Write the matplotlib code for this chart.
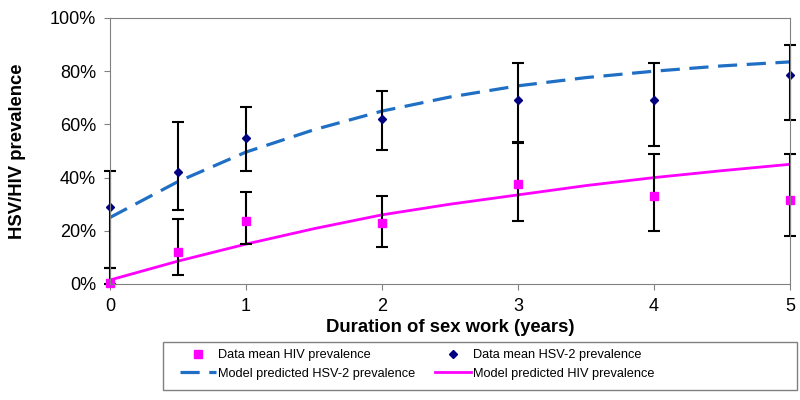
"""HSV-2 / HIV prevalence by duration of sex work"""
import matplotlib
matplotlib.use('Agg')
import matplotlib.pyplot as plt
from matplotlib.patches import Rectangle
from matplotlib.ticker import PercentFormatter

plt.rcParams['font.family'] = ['Liberation Sans', 'DejaVu Sans']

# data points (years, prevalence %)
data_x = [0, 0.5, 1, 2, 3, 4, 5]
hsv_mean = [29, 42, 55, 62, 69, 69, 78.5]
hsv_low = [6, 28, 42.5, 50.5, 53, 52, 61.5]
hsv_high = [42.5, 61, 66.5, 72.5, 83, 83, 90]
hiv_mean = [0.5, 12, 23.7, 23, 37.6, 33, 31.6]
hiv_low = [0, 3.5, 15, 14, 23.7, 20, 17.9]
hiv_high = [6, 24.5, 34.7, 33, 53.4, 49, 49]

# model curves
model_x = [0, 0.5, 1, 1.5, 2, 2.5, 3, 3.5, 4, 4.5, 5]
model_hsv = [25, 38.5, 49.6, 58, 65, 70.3, 74.5, 77.6, 80, 82, 83.5]
model_hiv = [1.5, 8.6, 15, 20.8, 26, 30, 33.5, 37, 40, 42.6, 45]

fig = plt.figure(figsize=(8, 4), dpi=100)
ax = fig.add_axes([0.1375, 0.29, 0.85, 0.665])

line_hsv, = ax.plot(model_x, model_hsv, color='#1f6fc5', linewidth=2.3,
                    dashes=(6, 3), label='Model predicted HSV-2 prevalence')
line_hiv, = ax.plot(model_x, model_hiv, color='#ff00ff', linewidth=2,
                    label='Model predicted HIV prevalence')

hsv_err = [[m - l for m, l in zip(hsv_mean, hsv_low)],
           [h - m for m, h in zip(hsv_mean, hsv_high)]]
hiv_err = [[m - l for m, l in zip(hiv_mean, hiv_low)],
           [h - m for m, h in zip(hiv_mean, hiv_high)]]

pts_hiv = ax.errorbar(data_x, hiv_mean, yerr=hiv_err, fmt='s', color='#ff00ff',
                      markersize=5.5, ecolor='black', elinewidth=1.5, capsize=4,
                      capthick=1.5, label='Data mean HIV prevalence')
pts_hsv = ax.errorbar(data_x, hsv_mean, yerr=hsv_err, fmt='D', color='#000080',
                      markersize=4.5, ecolor='black', elinewidth=1.5, capsize=4,
                      capthick=1.5, label='Data mean HSV-2 prevalence')
for eb in (pts_hiv, pts_hsv):
    eb[0].set_clip_on(False)
    for a in eb[1]:
        a.set_clip_on(False)
    for a in eb[2]:
        a.set_clip_on(False)

ax.set_xlim(0, 5)
ax.set_ylim(0, 100)
ax.set_yticks([0, 20, 40, 60, 80, 100])
ax.yaxis.set_major_formatter(PercentFormatter(decimals=0))
ax.tick_params(labelsize=13, color='gray', length=4)
ax.tick_params(axis='x', pad=6)
ax.tick_params(axis='y', pad=6)
for s in ax.spines.values():
    s.set_color('gray')

ax.set_xlabel('Duration of sex work (years)', fontsize=13.3, fontweight='bold', labelpad=3)
ax.set_ylabel('HSV/HIV prevalence', fontsize=13.3, fontweight='bold', labelpad=17)

# legend box (wider than its entries, as in the original)
fig.patches.append(Rectangle((0.204, 0.025), 0.7925, 0.12, transform=fig.transFigure,
                             facecolor='white', edgecolor='gray', linewidth=1, zorder=0))

handles = [pts_hiv[0], line_hsv, pts_hsv[0], line_hiv]
labels = ['Data mean HIV prevalence', 'Model predicted HSV-2 prevalence',
          'Data mean HSV-2 prevalence', 'Model predicted HIV prevalence']
leg = fig.legend(handles, labels, ncol=2, loc='upper left',
                 bbox_to_anchor=(0.225, 0.127), fontsize=9.2, frameon=False,
                 handlelength=2.8, handletextpad=0.2, columnspacing=1.5,
                 borderpad=0, borderaxespad=0, labelspacing=0.5)

plt.savefig('out.png', dpi=100)
plt.close()
